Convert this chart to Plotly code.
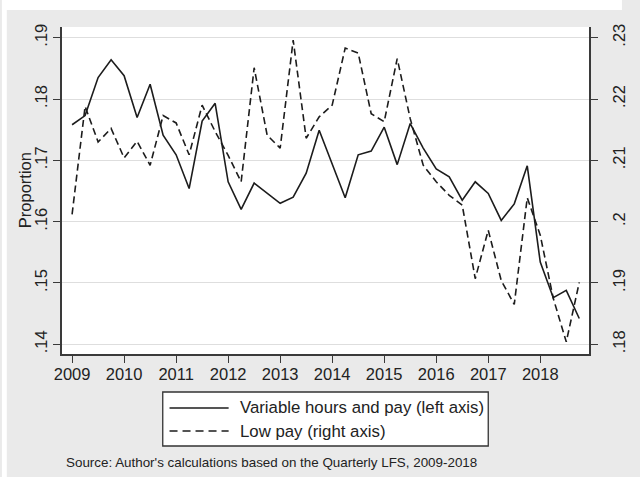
import plotly.graph_objects as go

# Quarterly LFS series, 2009q1 - 2018q4
years = list(range(2009, 2019))
quarters = [1, 2, 3, 4]
periods = [y + (q - 1) / 4 for y in years for q in quarters]

# Proportion of workers on variable hours and pay (left axis)
variable_hours_pay = [
    0.1758, 0.1773, 0.1835, 0.1864,
    0.1838, 0.1770, 0.1824, 0.1741,
    0.1709, 0.1654, 0.1764, 0.1793,
    0.1665, 0.1620, 0.1663, 0.1647,
    0.1630, 0.1640, 0.1679, 0.1749,
    0.1694, 0.1639, 0.1709, 0.1715,
    0.1754, 0.1693, 0.1760, 0.1720,
    0.1686, 0.1673, 0.1635, 0.1665,
    0.1646, 0.1602, 0.1629, 0.1691,
    0.1534, 0.1476, 0.1488, 0.1442,
]

# Proportion of workers on low pay (right axis)
low_pay = [
    0.2012, 0.2188, 0.2130, 0.2152,
    0.2104, 0.2131, 0.2092, 0.2173,
    0.2161, 0.2109, 0.2190, 0.2147,
    0.2108, 0.2065, 0.2251, 0.2141,
    0.2120, 0.2296, 0.2136, 0.2171,
    0.2190, 0.2283, 0.2275, 0.2176,
    0.2163, 0.2266, 0.2168, 0.2092,
    0.2065, 0.2043, 0.2027, 0.1907,
    0.1986, 0.1904, 0.1865, 0.2039,
    0.1978, 0.1875, 0.1804, 0.1901,
]

left_ticks = [0.14, 0.15, 0.16, 0.17, 0.18, 0.19]
left_labels = [".14", ".15", ".16", ".17", ".18", ".19"]
right_ticks = [0.18, 0.19, 0.20, 0.21, 0.22, 0.23]
right_labels = [".18", ".19", ".2", ".21", ".22", ".23"]

series_names = ["Variable hours and pay (left axis)", "Low pay (right axis)"]
source_note = "Source: Author's calculations based on the Quarterly LFS, 2009-2018"

W, H = 640, 477
ML, MR, MT, MB = 62, 34, 27, 123
PW, PH = W - ML - MR, H - MT - MB

FONT = "Liberation Sans, Arial, sans-serif"
INK = "#1c1c1c"
AXIS = "#3a3a3a"
TEXT = "#222222"


def px_x(px):
    return (px - ML) / PW


def px_y(py):
    return (H - MB - py) / PH


fig = go.Figure()
fig.add_trace(go.Scatter(
    x=periods, y=variable_hours_pay, name=series_names[0], mode="lines",
    line=dict(color=INK, width=1.6), yaxis="y",
))
fig.add_trace(go.Scatter(
    x=periods, y=low_pay, name=series_names[1], mode="lines",
    line=dict(color=INK, width=1.6, dash="7px,4px"), yaxis="y2",
))

left_range = [0.138418, 0.191745]
right_range = [left_range[0] + 0.04, left_range[1] + 0.04]

tick_font = dict(family=FONT, size=16.5, color=TEXT)

fig.update_layout(
    width=W, height=H,
    margin=dict(l=ML, r=MR, t=MT, b=MB, pad=0),
    paper_bgcolor="#eaeaea",
    plot_bgcolor="white",
    showlegend=False,
    xaxis=dict(
        range=[2008.806, 2018.937], tickvals=years,
        ticktext=[str(y) for y in years],
        showgrid=False, zeroline=False,
        showline=True, linecolor=AXIS, linewidth=1.5,
        ticks="outside", ticklen=7, tickwidth=1.3, tickcolor=AXIS,
        tickfont=tick_font, ticklabelstandoff=-3,
    ),
    yaxis=dict(
        range=left_range, tickvals=left_ticks, ticktext=left_labels,
        tickangle=-90, showgrid=True, gridcolor="#dedede", gridwidth=1,
        zeroline=False, showline=True, linecolor=AXIS, linewidth=1.5,
        ticks="outside", ticklen=7, tickwidth=1.3, tickcolor=AXIS,
        tickfont=tick_font,
    ),
    yaxis2=dict(
        range=right_range, tickvals=right_ticks, ticktext=right_labels,
        overlaying="y", side="right", tickangle=-90, showgrid=False,
        zeroline=False, showline=True, linecolor=AXIS, linewidth=1.5,
        ticks="outside", ticklen=7, tickwidth=1.3, tickcolor=AXIS,
        tickfont=tick_font, ticklabelstandoff=7,
    ),
)

shapes = [
    # white frame strips around the grey graph region
    dict(type="rect", xref="paper", yref="paper", x0=px_x(0), x1=px_x(W),
         y0=px_y(10), y1=px_y(0), fillcolor="white", line=dict(width=0), layer="below"),
    dict(type="rect", xref="paper", yref="paper", x0=px_x(0), x1=px_x(5),
         y0=px_y(H), y1=px_y(0), fillcolor="white", line=dict(width=0), layer="below"),
    # legend box
    dict(type="rect", xref="paper", yref="paper", x0=px_x(166), x1=px_x(502),
         y0=px_y(446), y1=px_y(392), fillcolor="white",
         line=dict(color="#333333", width=1.3)),
    # legend keys
    dict(type="line", xref="paper", yref="paper", x0=px_x(173), x1=px_x(234),
         y0=px_y(408), y1=px_y(408), line=dict(color=INK, width=1.6)),
    dict(type="line", xref="paper", yref="paper", x0=px_x(173), x1=px_x(234),
         y0=px_y(431), y1=px_y(431), line=dict(color=INK, width=1.6, dash="8px,5px")),
]
fig.update_layout(shapes=shapes)

annotations = [
    dict(text="Proportion", xref="paper", yref="paper", x=px_x(24), y=px_y(190),
         textangle=-90, showarrow=False, xanchor="center", yanchor="middle",
         font=dict(family=FONT, size=16.5, color=TEXT)),
    dict(text=series_names[0], xref="paper", yref="paper", x=px_x(244), y=px_y(408),
         showarrow=False, xanchor="left", yanchor="middle",
         font=dict(family=FONT, size=16.8, color=TEXT)),
    dict(text=series_names[1], xref="paper", yref="paper", x=px_x(244), y=px_y(431),
         showarrow=False, xanchor="left", yanchor="middle",
         font=dict(family=FONT, size=16.8, color=TEXT)),
    dict(text=source_note, xref="paper", yref="paper", x=px_x(64), y=px_y(462),
         showarrow=False, xanchor="left", yanchor="middle",
         font=dict(family=FONT, size=13.4, color=TEXT)),
]
fig.update_layout(annotations=annotations)

fig.write_html("out.html")
